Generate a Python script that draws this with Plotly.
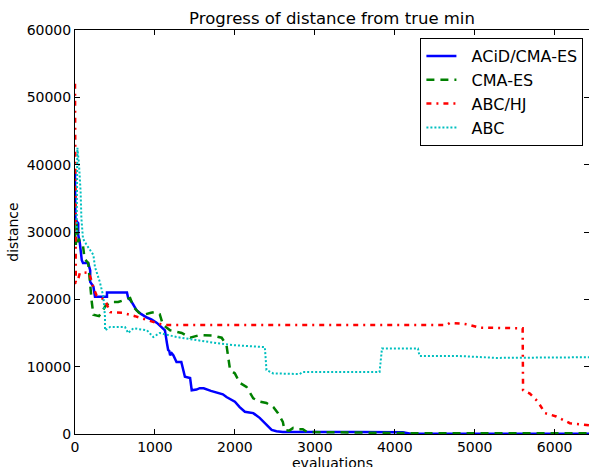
import plotly.graph_objects as go

# ACiD/CMA-ES
acid_x = [0, 5, 25, 40, 40, 60, 85, 100, 165, 190, 190, 230, 250, 300, 400, 400, 650, 665, 710, 770, 830, 900, 960, 1025, 1085, 1125, 1150, 1165, 1180, 1190, 1210, 1230, 1270, 1330, 1375, 1440, 1460, 1520, 1560, 1610, 1700, 1770, 1850, 1895, 2000, 2060, 2125, 2180, 2230, 2310, 2395, 2460, 2520, 2600, 3500, 4100, 4200, 6430]
acid_y = [39000, 32000, 31500, 31300, 29600, 28400, 25800, 25400, 25400, 24300, 22600, 21900, 20400, 20400, 20400, 21000, 21000, 20200, 19600, 18400, 17800, 17300, 17000, 16500, 15900, 15400, 13500, 12500, 12300, 11700, 12000, 11700, 10700, 10700, 8500, 8300, 6500, 6600, 6800, 6800, 6400, 6200, 5900, 5500, 4800, 4000, 3300, 3200, 3100, 2400, 1300, 600, 400, 300, 300, 250, 50, 50]

# CMA-ES
cma_x = [0, 10, 20, 35, 50, 60, 100, 120, 165, 180, 210, 230, 300, 330, 380, 440, 540, 690, 730, 800, 855, 950, 1000, 1060, 1100, 1190, 1335, 1440, 1560, 1730, 1835, 1895, 1915, 1940, 2000, 2060, 2145, 2230, 2310, 2395, 2480, 2540, 2600, 2620, 2680, 2730, 2800, 2850, 2900, 4300, 4400, 6430]
cma_y = [30000, 28000, 31500, 28500, 29000, 28400, 28000, 26000, 25400, 23000, 19600, 17700, 17500, 18000, 19000, 19600, 19600, 20200, 18900, 18000, 17700, 18000, 18100, 17800, 16200, 15400, 15000, 14300, 14700, 14600, 14300, 13200, 11500, 9500, 9000, 7600, 7000, 5300, 4800, 4600, 4000, 3100, 1800, 600, 500, 900, 700, 700, 300, 200, 100, 100]

# ABC/HJ
hj_x = [0, 3, 5, 8, 10, 25, 40, 60, 170, 200, 230, 270, 375, 440, 590, 750, 900, 1025, 1100, 4650, 4690, 4850, 4900, 5060, 5600, 5605, 5690, 5790, 5880, 6020, 6190, 6430]
hj_y = [52000, 45000, 35000, 28000, 22500, 22600, 23000, 23900, 24000, 23000, 21700, 20600, 19900, 18100, 18000, 17500, 16900, 16500, 16200, 16200, 16500, 16400, 16300, 15800, 15700, 6500, 6000, 4800, 3100, 2600, 1600, 1300]

# ABC
abc_x = [20, 30, 50, 70, 80, 100, 150, 190, 230, 250, 310, 355, 375, 375, 440, 625, 665, 730, 900, 980, 1060, 1270, 1480, 1770, 1980, 2375, 2395, 2480, 2810, 2850, 3810, 3840, 4290, 4310, 4780, 5100, 5270, 6430]
abc_y = [30000, 42500, 40000, 36000, 32000, 29000, 28000, 27300, 26600, 24800, 22600, 20400, 17400, 15400, 15900, 15900, 15000, 15700, 15400, 14400, 15000, 14400, 14000, 13500, 13200, 12900, 9500, 9000, 8900, 9200, 9200, 12700, 12700, 11600, 11600, 11400, 11300, 11400]

series_names = ["ACiD/CMA-ES", "CMA-ES", "ABC/HJ", "ABC"]

FONT = "DejaVu Sans"

fig = go.Figure()
fig.add_trace(go.Scatter(x=acid_x, y=acid_y, mode="lines", name="  " + series_names[0],
                         line=dict(color="#0000ff", width=2.5)))
fig.add_trace(go.Scatter(x=cma_x, y=cma_y, mode="lines", name="  " + series_names[1],
                         line=dict(color="#008000", width=2.5, dash="8px,6px")))
fig.add_trace(go.Scatter(x=hj_x, y=hj_y, mode="lines", name="  " + series_names[2],
                         line=dict(color="#ff0000", width=2.5, dash="5px,5px,2px,5px")))
fig.add_trace(go.Scatter(x=abc_x, y=abc_y, mode="lines", name="  " + series_names[3],
                         line=dict(color="#00bfbf", width=2, dash="2px,2px")))

axis_common = dict(showgrid=False, zeroline=False, showline=True, linecolor="black",
                   linewidth=1, mirror="ticks", ticks="inside", ticklen=5,
                   tickcolor="black", tickformat="d",
                   tickfont=dict(family=FONT, size=14, color="black"))

fig.update_layout(
    width=589, height=467,
    margin=dict(l=75, r=0, t=30, b=33, autoexpand=False),
    paper_bgcolor="white", plot_bgcolor="white",
    title=dict(text="Progress of distance from true min", x=0.5, xanchor="center",
               y=1 - 18 / 467, yanchor="middle", xref="paper",
               font=dict(family=FONT, size=16.5, color="black")),
    xaxis=dict(range=[0, 6430], dtick=1000, tick0=0,
               automargin=False, **axis_common),
    yaxis=dict(range=[0, 60000], dtick=10000, tick0=0,
               title=dict(text="distance", font=dict(family=FONT, size=14, color="black"), standoff=4),
               automargin=False, **axis_common),
    legend=dict(x=0.672, y=0.98, xanchor="left", yanchor="top",
                bgcolor="white", bordercolor="black", borderwidth=1,
                font=dict(family=FONT, size=16, color="black"),
                tracegroupgap=0, itemwidth=30),
    showlegend=True,
    annotations=[dict(text="evaluations", xref="paper", yref="paper", x=0.5, y=0,
                      xanchor="center", yanchor="top", yshift=-19, showarrow=False,
                      font=dict(family=FONT, size=14, color="black"))],
)

fig.write_html("out.html")
